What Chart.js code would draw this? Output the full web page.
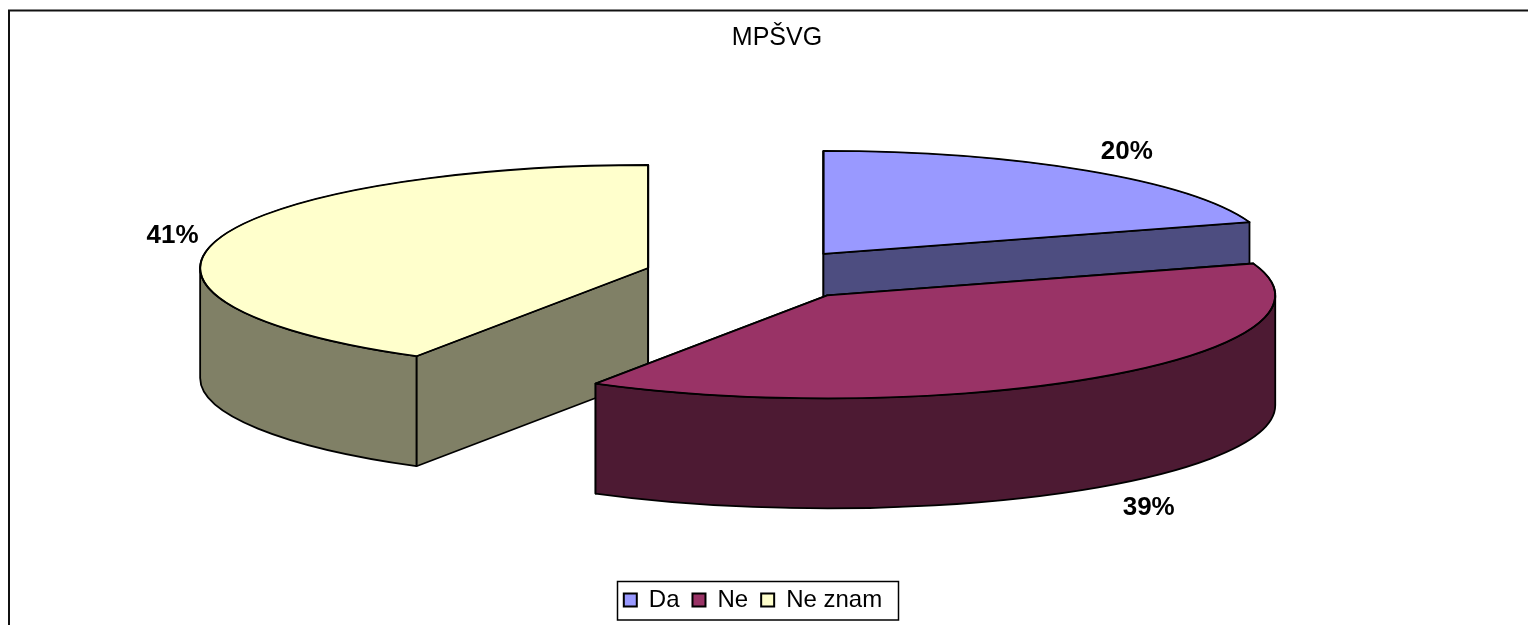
<!DOCTYPE html>
<html>
<head>
<meta charset="utf-8">
<title>MPŠVG</title>
<script src="https://cdn.jsdelivr.net/npm/chart.js@4"></script>
<style>
  html, body { margin: 0; padding: 0; background: #fff; }
  canvas { display: block; }
</style>
</head>
<body>
<canvas id="pieChart" width="1528" height="625"></canvas>
<script>
const titleText = 'MPŠVG';
const categories = ['Da', 'Ne', 'Ne znam'];
const shares = [20, 38.65, 41.35];
const shareLabels = ['20%', '39%', '41%'];

const topColors = ['#9999FF', '#993366', '#FFFFCC'];
const sideColors = ['#4D4D80', '#4D1A33', '#808066'];

// fake 3D view: flattened pie, pulled apart, with a wall below each slice
const pieCenter = { x: 757, y: 275 };
const pieRadius = 448;
const tilt = 0.23;
const pieDepth = 110;
const explode = 113;
const drawOrder = [2, 0, 1];
const labelNudge = [[40, -19], [43, 132], [-44, -5]];
const outlineWidth = 1.8;

function slicePlace(arc) {
  const mid = (arc.startAngle + arc.endAngle) / 2;
  return {
    x: pieCenter.x + Math.cos(mid) * explode,
    y: pieCenter.y + Math.sin(mid) * explode * tilt,
  };
}

function rimPath(ctx, place, radius, from, to, drop) {
  ctx.ellipse(place.x, place.y + drop, radius, radius * tilt, 0, from, to, from > to);
}

function drawWalls(ctx, arc, index, place) {
  const r = arc.outerRadius;
  const ry = r * tilt;
  ctx.fillStyle = sideColors[index];
  ctx.strokeStyle = '#000';
  ctx.lineWidth = outlineWidth;
  ctx.lineJoin = 'round';

  [arc.startAngle, arc.endAngle].forEach((angle) => {
    const ex = place.x + Math.cos(angle) * r;
    const ey = place.y + Math.sin(angle) * ry;
    ctx.beginPath();
    ctx.moveTo(place.x, place.y);
    ctx.lineTo(ex, ey);
    ctx.lineTo(ex, ey + pieDepth);
    ctx.lineTo(place.x, place.y + pieDepth);
    ctx.closePath();
    ctx.fill();
    ctx.stroke();
  });

  const from = Math.max(arc.startAngle, 0);
  const to = Math.min(arc.endAngle, Math.PI);
  if (to > from) {
    ctx.beginPath();
    rimPath(ctx, place, r, from, to, 0);
    rimPath(ctx, place, r, to, from, pieDepth);
    ctx.closePath();
    ctx.fill();
    ctx.stroke();
  }
}

function drawTop(ctx, arc, place) {
  ctx.save();
  ctx.translate(place.x, place.y);
  ctx.scale(1, tilt);
  ctx.translate(-arc.x, -arc.y);
  arc.draw(ctx);
  ctx.restore();

  // outline again without the squash, otherwise the border gets thin
  ctx.strokeStyle = '#000';
  ctx.lineWidth = outlineWidth;
  ctx.lineJoin = 'round';
  ctx.beginPath();
  ctx.moveTo(place.x, place.y);
  rimPath(ctx, place, arc.outerRadius, arc.startAngle, arc.endAngle, 0);
  ctx.closePath();
  ctx.stroke();
}

const pie3d = {
  id: 'pie3d',
  afterLayout(chart) {
    // title and legend are not centred on the canvas in the picture
    chart.titleBlock.left += 26;
    chart.legend.left -= 22;
  },
  beforeDatasetDraw(chart, args) {
    const { ctx } = chart;
    const arcs = args.meta.data;
    drawOrder.forEach((i) => {
      const place = slicePlace(arcs[i]);
      ctx.save();
      drawWalls(ctx, arcs[i], i, place);
      drawTop(ctx, arcs[i], place);
      ctx.restore();
    });
    return false;
  },
  afterDatasetsDraw(chart) {
    const { ctx } = chart;
    const arcs = chart.getDatasetMeta(0).data;
    ctx.save();
    ctx.fillStyle = '#000';
    ctx.font = 'bold 26px "Liberation Sans", Arial, sans-serif';
    ctx.textAlign = 'center';
    ctx.textBaseline = 'middle';
    arcs.forEach((arc, i) => {
      const place = slicePlace(arc);
      const mid = (arc.startAngle + arc.endAngle) / 2;
      const x = place.x + Math.cos(mid) * arc.outerRadius + labelNudge[i][0];
      const y = place.y + Math.sin(mid) * arc.outerRadius * tilt + labelNudge[i][1];
      ctx.fillText(shareLabels[i], x, y);
    });
    ctx.restore();
  },
  afterDraw(chart) {
    const { ctx } = chart;
    ctx.save();
    ctx.strokeStyle = '#111';
    // frame has no right or bottom edge in the picture
    ctx.lineWidth = 2;
    ctx.beginPath();
    ctx.moveTo(9, 625);
    ctx.lineTo(9, 10.5);
    ctx.lineTo(1528, 10.5);
    ctx.stroke();
    // legend box
    ctx.strokeStyle = '#000';
    ctx.lineWidth = 1.5;
    ctx.strokeRect(617.5, 581.5, 281, 38.5);
    ctx.restore();
  },
};

new Chart(document.getElementById('pieChart'), {
  type: 'pie',
  data: {
    labels: categories,
    datasets: [
      {
        data: shares,
        backgroundColor: topColors,
        borderColor: '#000',
        borderWidth: 2,
        clip: false,
      },
    ],
  },
  options: {
    responsive: false,
    devicePixelRatio: 1,
    animation: false,
    radius: pieRadius,
    layout: { padding: { top: 12, bottom: 3 } },
    plugins: {
      title: {
        display: true,
        text: titleText,
        color: '#000',
        font: { family: '"Liberation Sans", Arial, sans-serif', size: 25, weight: 'normal' },
        padding: { top: 11, bottom: 8 },
      },
      legend: {
        position: 'bottom',
        labels: {
          color: '#000',
          boxWidth: 13,
          boxHeight: 13,
          padding: 13,
          font: { family: '"Liberation Sans", Arial, sans-serif', size: 24 },
        },
      },
      tooltip: { enabled: false },
    },
  },
  plugins: [pie3d],
});
</script>
</body>
</html>
